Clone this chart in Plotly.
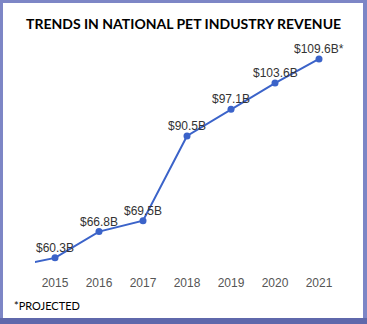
import plotly.graph_objects as go

years = [2014, 2015, 2016, 2017, 2018, 2019, 2020, 2021]
revenue = [58.0, 60.3, 66.8, 69.5, 90.5, 97.1, 103.6, 109.6]
labels = ["", "$60.3B", "$66.8B", "$69.5B", "$90.5B", "$97.1B", "$103.6B", "$109.6B*"]
tick_years = [2015, 2016, 2017, 2018, 2019, 2020, 2021]

W, H = 367, 324
ml, mr, mt, mb = 35, 26, 50, 50

fig = go.Figure()
fig.add_trace(go.Scatter(
    x=years, y=revenue, mode="lines+markers",
    line=dict(color="#3b63c9", width=2),
    marker=dict(color="#3b63c9", size=7),
    hoverinfo="skip", cliponaxis=True,
))

for x, y, t in zip(years, revenue, labels):
    if t:
        fig.add_annotation(x=x, y=y, text=t, showarrow=False, yshift=10,
                           font=dict(family="Liberation Sans, Arial", size=12, color="#333333"))

pw = W - ml - mr
ph = H - mt - mb
def px(xp):
    return (xp - ml) / pw
def py(yp):
    return (H - mb - yp) / ph

border = "#7d86c6"
shapes = [
    dict(type="rect", xref="paper", yref="paper", x0=px(0), x1=px(3), y0=py(H), y1=py(0), fillcolor=border, line_width=0, layer="above"),
    dict(type="rect", xref="paper", yref="paper", x0=px(0), x1=px(W), y0=py(3), y1=py(0), fillcolor=border, line_width=0, layer="above"),
    dict(type="rect", xref="paper", yref="paper", x0=px(363), x1=px(W), y0=py(H), y1=py(0), fillcolor=border, line_width=0, layer="above"),
    dict(type="rect", xref="paper", yref="paper", x0=px(0), x1=px(W), y0=py(H), y1=py(318), fillcolor="#5f68ab", line_width=0, layer="above"),
]

fig.update_layout(
    width=W, height=H,
    margin=dict(l=ml, r=mr, t=mt, b=mb),
    paper_bgcolor="white", plot_bgcolor="white",
    showlegend=False,
    shapes=shapes,
    xaxis=dict(range=[2014.545, 2021.5], tickvals=tick_years, ticktext=[str(y) for y in tick_years],
               showgrid=False, zeroline=False, showline=False, ticks="",
               tickfont=dict(family="Liberation Sans, Arial", size=12, color="#555555")),
    yaxis=dict(range=[56.3, 111.8], visible=False, showgrid=False, zeroline=False),
)

fig.add_annotation(xref="paper", yref="paper", x=px(183), y=py(24), text="<b>TRENDS IN NATIONAL PET INDUSTRY REVENUE</b>",
                   showarrow=False, xanchor="center", yanchor="middle",
                   font=dict(family="Lato", size=14, color="black"))
fig.add_annotation(xref="paper", yref="paper", x=px(12), y=py(305), text="*PROJECTED",
                   showarrow=False, xanchor="left", yanchor="middle",
                   font=dict(family="Lato", size=11, color="black"))

fig.write_html("out.html")
